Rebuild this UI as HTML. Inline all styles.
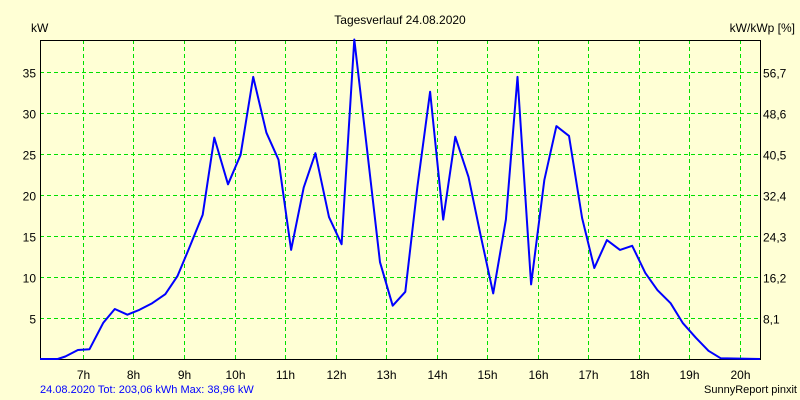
<!DOCTYPE html>
<html><head><meta charset="utf-8"><style>
body{margin:0;background:#ffffd5;}
svg{display:block;font-family:"Liberation Sans",sans-serif;font-size:12px;}
</style></head><body>
<svg id="chart" width="800" height="400" viewBox="0 0 800 400">
<rect x="0" y="0" width="800" height="400" fill="#ffffd5"/>
<text x="400" y="24" text-anchor="middle" fill="#000">Tagesverlauf 24.08.2020</text>
<text x="31" y="32" fill="#000">kW</text>
<text x="795" y="32" text-anchor="end" fill="#000">kW/kWp [%]</text>
<g id="grid"></g>
<g id="axes"></g>
<g id="series"></g>
<text x="40" y="393" fill="#0000ff" font-size="11">24.08.2020 Tot: 203,06 kWh Max: 38,96 kW</text>
<text x="797" y="393" text-anchor="end" fill="#000" font-size="11">SunnyReport pinxit</text>
</svg>
<script>
const hours = [6.15,6.5,6.65,6.9,7.13,7.4,7.63,7.88,8.12,8.37,8.63,8.87,9.1,9.37,9.6,9.87,10.12,10.37,10.63,10.87,11.12,11.37,11.6,11.87,12.12,12.37,12.62,12.88,13.13,13.38,13.62,13.87,14.13,14.37,14.63,14.87,15.12,15.37,15.6,15.87,16.13,16.37,16.62,16.88,17.12,17.37,17.63,17.87,18.13,18.37,18.63,18.87,19.13,19.38,19.62,20.4];
const powerKW = [0,0,0.3,1.1,1.2,4.4,6.1,5.4,6.0,6.8,7.9,10.1,13.5,17.6,27,21.3,24.9,34.4,27.6,24.3,13.3,20.9,25.1,17.3,14.0,38.96,25.7,11.8,6.5,8.2,21,32.6,17,27.1,22.2,15.1,8.0,17,34.4,9.1,21.8,28.4,27.2,17.2,11.1,14.5,13.3,13.8,10.5,8.4,6.8,4.4,2.6,1.0,0.1,0];
const leftTicks = [5,10,15,20,25,30,35];
const rightTickLabels = ["8,1","16,2","24,3","32,4","40,5","48,6","56,7"];
const hourTicks = [7,8,9,10,11,12,13,14,15,16,17,18,19,20];

const X0=40,X1=760,Y0=359,Y1=40;
const xMin=6.15,xMax=20.4,yMax=38.9;
const xs=h=>X0+(h-xMin)/(xMax-xMin)*(X1-X0);
const ys=v=>Y0-v/yMax*(Y0-Y1);
const NS="http://www.w3.org/2000/svg";
function mk(tag,attrs,parent){const e=document.createElementNS(NS,tag);for(const k in attrs)e.setAttribute(k,attrs[k]);parent.appendChild(e);return e;}
const grid=document.getElementById('grid'),axes=document.getElementById('axes'),series=document.getElementById('series');

leftTicks.forEach((v,i)=>{
  const y=Math.round(ys(v))+0.5;
  const l=mk('line',{x1:X0,x2:X1,y1:y,y2:y,stroke:'#00e000','stroke-dasharray':'4,3'},grid);
  
  
  const t=mk('text',{x:36,y:y+5,'text-anchor':'end',fill:'#000'},axes);
  t.textContent=v;
  
  
  const r=mk('text',{x:763,y:y+5,fill:'#000'},axes);
  r.textContent=rightTickLabels[i];
  
  
});
hourTicks.forEach(h=>{
  const x=Math.round(xs(h))+0.5;
  const l=mk('line',{x1:x,x2:x,y1:Y1,y2:Y0,stroke:'#00e000','stroke-dasharray':'4,3'},grid);
  
  
  const t=mk('text',{x:x,y:379,'text-anchor':'middle',fill:'#000'},axes);
  t.textContent=h+'h';
  
  
});
const frame=mk('path',{d:`M${X0+0.5},${Y1+0.5}H${X1+0.5}V${Y0+0.5}H${X0+0.5}Z`,fill:'none',stroke:'#000'},axes);



const d=hours.map((h,i)=>(i?'L':'M')+xs(h).toFixed(1)+','+ys(powerKW[i]).toFixed(1)).join('');
const p=mk('path',{d:d,fill:'none',stroke:'#0000ff','stroke-width':2,'stroke-linejoin':'round'},series);


</script>
</body></html>
